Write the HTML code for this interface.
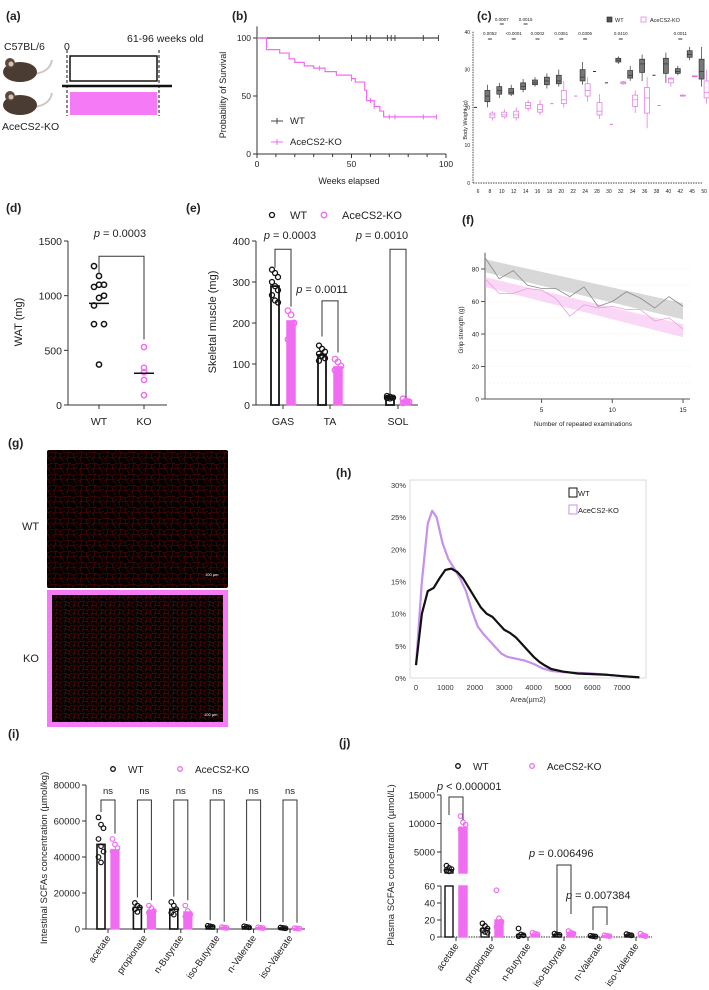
<!DOCTYPE html>
<html><head><meta charset="utf-8">
<style>
html,body{margin:0;padding:0;background:#fff;}
svg{display:block;font-family:"Liberation Sans",Arial,sans-serif;}
</style></head>
<body>
<svg id="fig" xmlns="http://www.w3.org/2000/svg" width="709" height="990" viewBox="0 0 709 990">
<defs>
<pattern id="net" width="13" height="11" patternUnits="userSpaceOnUse">
<path d="M0 2 L4 1 L8 3 L13 1 M4 1 L3 6 L0 8 M3 6 L9 7 L8 3 M9 7 L12 11 M9 7 L13 5 M2 11 L3 6" stroke="#a01010" stroke-width="0.6" fill="none"/>
</pattern>
<pattern id="net2" width="9" height="8" patternUnits="userSpaceOnUse">
<path d="M0 2 L3 1 L6 3 L9 1 M3 1 L2.5 5 L0 6 M2.5 5 L6.5 6 L6 3 M6.5 6 L8.5 8 M1.5 8 L2.5 5" stroke="#a81010" stroke-width="0.55" fill="none"/>
</pattern>
</defs>
<g font-size="12" font-weight="bold" fill="#222">
<text x="6" y="20">(a)</text>
<text x="232" y="20">(b)</text>
<text x="477" y="20">(c)</text>
<text x="6" y="212">(d)</text>
<text x="186" y="212">(e)</text>
<text x="462" y="224">(f)</text>
<text x="8" y="447">(g)</text>
<text x="336" y="477">(h)</text>
<text x="8" y="738">(i)</text>
<text x="339" y="747">(j)</text>
</g>
<g>
<text x="4" y="50" font-size="10.5" fill="#222">C57BL/6</text>
<text x="64" y="50" font-size="10.5" fill="#222">0</text>
<text x="127" y="42" font-size="10.5" fill="#222">61-96  weeks old</text>
<rect x="70" y="56" width="87" height="25" fill="#fff" stroke="#111" stroke-width="1.5"/>
<line x1="62" y1="86" x2="172" y2="86" stroke="#111" stroke-width="2.5"/>
<rect x="70" y="92" width="87" height="23" fill="#f57af5"/>
<line x1="67" y1="50" x2="67" y2="116" stroke="#111" stroke-dasharray="3,2"/>
<line x1="159" y1="50" x2="159" y2="116" stroke="#111" stroke-dasharray="3,2"/>
<g>
<path d="M34 74 Q50 72 52 60" stroke="#cfc7c0" stroke-width="2" fill="none"/>
<ellipse cx="20" cy="72" rx="17" ry="10" fill="#4a3b33"/><circle cx="10" cy="63" r="5" fill="#5a4a40"/><circle cx="11" cy="64" r="2.5" fill="#d8c0b0"/>
</g>
<g>
<path d="M34 107 Q50 105 52 93" stroke="#cfc7c0" stroke-width="2" fill="none"/>
<ellipse cx="20" cy="105" rx="17" ry="10" fill="#4a3b33"/><circle cx="10" cy="96" r="5" fill="#5a4a40"/><circle cx="11" cy="97" r="2.5" fill="#d8c0b0"/>
</g>
<text x="2" y="130" font-size="10.5" fill="#222">AceCS2-KO</text>
</g>
<g>
<text x="22" y="530" font-size="11" fill="#222">WT</text>
<text x="23" y="662" font-size="11" fill="#222">KO</text>
<rect x="47" y="450" width="181" height="138" rx="2" fill="#050000"/>
<rect x="47" y="450" width="181" height="138" fill="url(#net)" opacity="0.55"/>
<text x="205" y="576" font-size="4" fill="#fff">100 µm</text>
<rect x="47" y="590" width="181" height="137" fill="#f57af5"/>
<rect x="52" y="595" width="171" height="127" fill="#050000"/>
<rect x="52" y="595" width="171" height="127" fill="url(#net2)" opacity="0.6"/>
<text x="204" y="716" font-size="4" fill="#fff">100 µm</text>
</g>
</svg>
<script>
const survWeeks=[0,5,12,17,20,25,30,36,42,50,52,57,58,62,65,67,95];
const survKO=[100,90,87,82,79,76,74,71,68,65,62,55,46,41,37,32,32];
const wtCensor=[33,50,58,60,69,71,73,88,96];
const koCensor=[33,50,60,62,70,73,88,95];
const bwCats=["6","8","10","12","14","16","18","20","22","24","28","30","32","34","36","38","40","42","45","50"];
const wtMed=[20,23,24.5,24,25.5,26.5,27,27,null,28,29.5,26.5,32.5,28.5,31.5,28.5,31.5,29.5,34,29.5];
const wtLo=[20,20,22.5,23,24,25.5,25,25.5,null,26,29.5,26.5,31.5,27,27,28.5,26.5,28.5,32.5,25.5];
const wtHi=[20,26,26.5,26,27.5,28,29,30,null,32,29.5,26.5,33.5,31,34,28.5,34.5,31,36,36];
const koMed=[null,18,18,18,20.5,19.5,21,22,23,24.5,19,15.5,26.5,22,22.5,20.5,27.5,23,28.2,24];
const koLo=[null,16.5,17,16.5,19,18,21,20,23,21.5,17,15.5,26,18.5,14.5,20.5,25.5,23,28,21];
const koHi=[null,19,19.5,20,22,22,21,27,23,28,23.5,15.5,27,24.5,28,20.5,28,23.5,28.5,30];
const bwPRow1=[["0.0007",2],["0.0015",4]];
const bwPRow2=[["0.0052",1],["<0.0001",3],["0.0002",5],["0.0351",7],["0.0306",9],["0.0410",12],["0.0011",17]];
const watWT=[1270,1180,1100,1080,1100,1000,910,980,740,740,370];
const watKO=[530,340,300,230,90];
const watMedWT=930, watMedKO=290;
const muscles=["GAS","TA","SOL"];
const muscWT=[290,122,20];
const muscKO=[205,93,12];
const muscPtsWT=[[330,322,312,300,290,280,268,255,250],[145,137,130,125,120,114,108],[22,20,18,17,16]];
const muscPtsKO=[[230,220,200,160],[112,105,95,85,80],[15,10,8,5]];
const muscP=["p = 0.0003","p = 0.0011","p = 0.0010"];
const gripX=[1,2,3,4,5,6,7,8,9,10,11,12,13,14,15];
const gripWT=[87,74,79,70,68,68,63,69,57,60,66,62,56,63,57];
const gripKO=[74,65,65,68,67,62,51,58,56,57,55,55,48,50,43];
const gripWTFit=[82,54]; const gripWTBand=[4,5];
const gripKOFit=[72,42]; const gripKOBand=[3,4];
const areaWTx=[0,200,400,600,800,1000,1200,1400,1600,1800,2000,2200,2400,2600,2800,3000,3200,3400,3600,3800,4000,4200,4400,4600,5000,5500,6000,6500,7000,7600];
const areaWTy=[2,10,13.5,14,15.5,16.8,17,16.5,15.5,14,12.5,11,10,9.5,8.5,7.5,7,6.3,5.3,4.3,3.3,2.5,1.9,1.4,1,0.7,0.6,0.5,0.3,0.1];
const areaKOx=[0,200,400,550,700,900,1100,1300,1500,1700,1900,2100,2300,2500,2700,2900,3100,3400,3700,4000,4300,4600,5000,5500,6000,6500,7000,7600];
const areaKOy=[2,15,24,26,25,21,18.5,17,15.5,13.5,10.5,8,6.8,5.8,4.8,3.8,3.3,3,2.7,2.2,1.5,1.1,0.9,0.8,0.7,0.5,0.3,0.1];
const scfaCats=["acetate","propionate","n-Butyrate","iso-Butyrate","n-Valerate","iso-Valerate"];
const intWT=[47000,12000,11000,1500,1200,600];
const intKO=[44000,10500,9500,900,800,400];
const intPtsWT=[[62000,58000,56000,50000,46000,43000,40000,37000],[14500,13000,12000,11000,9500],[15000,13000,11000,9000,8000],[1800,1500,1200],[1500,1200,900],[800,600,400]];
const intPtsKO=[[50000,47000,45000,43000,41000],[13000,11500,10000,9000],[13000,10000,8000,7000],[1000,800,600],[900,700,500],[500,300,200]];
const plaWT=[1900,10,3,3,1,2.5];
const plaKO=[9300,20,3.5,5,1.5,2];
const plaPtsWT=[[2600,2200,2000,1800,1600],[16,13,10,8,6,5],[10,3,2,1],[4,3,2.5],[1.5,1,0.5],[3.5,2.5,2]];
const plaPtsKO=[[11300,10200,9800,9000,8500],[55,22,18,12,8],[5,4,3],[7,5,4],[2,1.5,1],[4,2,1]];

const NS='http://www.w3.org/2000/svg';
const svg=document.getElementById('fig');
function mk(tag,a,p){const e=document.createElementNS(NS,tag);for(const k in a)e.setAttribute(k,a[k]);(p||svg).appendChild(e);return e;}
function txt(x,y,s,size,anchor,p,extra){const e=mk('text',Object.assign({x:x,y:y,'font-size':size,'text-anchor':anchor||'start',fill:'#222'},extra||{}),p);e.textContent=s;return e;}
function grp(name){const g=mk('g',{});return g;}
const PINK='#f06cf0';

(function(){
const g=grp('survival-chart');
const xb=w=>257+w*1.89, yb=p=>154-p*1.16;
let e=mk('line',{x1:257,y1:yb(110),x2:257,y2:154,stroke:'#333'},g);

e=mk('line',{x1:257,y1:154,x2:xb(100),y2:154,stroke:'#333'},g);

[0,50,100].forEach(v=>{mk('line',{x1:253,x2:257,y1:yb(v),y2:yb(v),stroke:'#333'},g);const t=txt(251,yb(v)+3,String(v),8.5,'end',g);});
for(let w=0;w<=100;w+=10){mk('line',{x1:xb(w),x2:xb(w),y1:154,y2:w%50?157:158,stroke:'#333'},g);}
[0,50,100].forEach(v=>{const t=txt(xb(v),167,String(v),8.5,'middle',g);});
e=txt(349,184,'Weeks elapsed',9,'middle',g);
e=txt(0,0,'Probability of Survival',9,'middle',g,{transform:'translate(226,95) rotate(-90)'});
e=mk('line',{x1:xb(0),x2:xb(96),y1:yb(100),y2:yb(100),stroke:'#444','stroke-width':1.2},g);

wtCensor.forEach(w=>{const c=mk('line',{x1:xb(w),x2:xb(w),y1:yb(100)-3,y2:yb(100)+3,stroke:'#444'},g);});
let d='M'+xb(survWeeks[0])+' '+yb(survKO[0]);
for(let i=1;i<survWeeks.length;i++){d+=' H'+xb(survWeeks[i])+' V'+yb(survKO[i]);}
e=mk('path',{d:d,fill:'none',stroke:PINK,'stroke-width':1.2},g);

koCensor.forEach(w=>{let v=survKO[0];for(let i=0;i<survWeeks.length;i++)if(survWeeks[i]<=w)v=survKO[i];const c=mk('line',{x1:xb(w),x2:xb(w),y1:yb(v)-2.5,y2:yb(v)+2.5,stroke:PINK},g);});
e=mk('line',{x1:271,x2:283,y1:121,y2:121,stroke:'#444'},g);
mk('line',{x1:277,x2:277,y1:118,y2:124,stroke:'#444'},g);
e=txt(290,124,'WT',9.5,'start',g);
e=mk('line',{x1:271,x2:283,y1:142,y2:142,stroke:PINK},g);
mk('line',{x1:277,x2:277,y1:139,y2:145,stroke:PINK},g);
e=txt(290,145,'AceCS2-KO',9.5,'start',g);
})();

(function(){
const g=grp('body-weight-chart');
const xc=i=>478+i*11.9, yc=v=>183-v*3.78;
let e=mk('line',{x1:473,y1:yc(40),x2:473,y2:183,stroke:'#444','stroke-dasharray':'1.5,1'},g);
e=mk('line',{x1:473,y1:183,x2:703,y2:183,stroke:'#444','stroke-dasharray':'1.5,1'},g);
[0,10,20,30,40].forEach(v=>{const t=txt(470,yc(v)+2,String(v),5,'end',g);});
bwCats.forEach((c,i)=>{const t=txt(xc(i),193,c,5,'middle',g);});
e=txt(0,0,'Body Weight (g)',5.5,'middle',g,{transform:'translate(467,120) rotate(-90)'});
function box(i,med,lo,hi,dx,col,fill,name){
 if(med==null)return;
 const x=xc(i)+dx;
 if(lo===hi){const b=mk('line',{x1:x-1.5,x2:x+1.5,y1:yc(med),y2:yc(med),stroke:col},g);return;}
 const q1=med-(med-lo)*0.5,q3=med+(hi-med)*0.5;
 mk('line',{x1:x,x2:x,y1:yc(hi),y2:yc(lo),stroke:col,'stroke-width':0.7},g);
 const b=mk('rect',{x:x-2.5,y:yc(q3),width:5,height:Math.max(1,yc(q1)-yc(q3)),fill:fill,stroke:col,'stroke-width':0.7},g);
 
 mk('line',{x1:x-2.5,x2:x+2.5,y1:yc(med),y2:yc(med),stroke:col,'stroke-width':0.7},g);
}
bwCats.forEach((c,i)=>{box(i,wtMed[i],wtLo[i],wtHi[i],-2.5,'#333','#777','wt-weight-box');box(i,koMed[i],koLo[i],koHi[i],2.5,'#e070e0','#fff','ko-weight-box');});
bwPRow1.forEach(p=>{const t=txt(xc(p[1]),21,p[0],4.5,'middle',g);mk('line',{x1:xc(p[1])-2,x2:xc(p[1])+2,y1:24,y2:24,stroke:'#333'},g);});
bwPRow2.forEach(p=>{const t=txt(xc(p[1]),35,p[0],4.5,'middle',g);mk('line',{x1:xc(p[1])-2,x2:xc(p[1])+2,y1:39,y2:39,stroke:'#333'},g);});
e=mk('rect',{x:607,y:17,width:5,height:5,fill:'#555',stroke:'#222','stroke-width':0.6},g);
e=txt(615,22,'WT',5.5,'start',g);
e=mk('rect',{x:641,y:17,width:5,height:5,fill:'#fff',stroke:'#e070e0','stroke-width':0.7},g);
e=txt(650,22,'AceCS2-KO',5.5,'start',g);
})();

(function(){
const g=grp('wat-chart');
const yd=v=>405-v*(164/1500), xWT=99, xKO=144;
let e=mk('line',{x1:68,y1:yd(1500),x2:68,y2:405,stroke:'#333'},g);
e=mk('line',{x1:68,y1:405,x2:167,y2:405,stroke:'#333'},g);
[0,500,1000,1500].forEach(v=>{mk('line',{x1:64,x2:68,y1:yd(v),y2:yd(v),stroke:'#333'},g);const t=txt(62,yd(v)+4,String(v),10.5,'end',g);});
[[xWT,'WT'],[xKO,'KO']].forEach(a=>{mk('line',{x1:a[0],x2:a[0],y1:405,y2:409,stroke:'#333'},g);const t=txt(a[0],425,a[1],10.5,'middle',g);});
e=txt(0,0,'WAT (mg)',11,'middle',g,{transform:'translate(22,322) rotate(-90)'});
watWT.forEach((v,i)=>{const c=mk('circle',{cx:xWT+((i%3)-1)*5,cy:yd(v),r:2.6,fill:'none',stroke:'#111','stroke-width':1.5},g);});
watKO.forEach((v,i)=>{const c=mk('circle',{cx:xKO,cy:yd(v),r:2.6,fill:'none',stroke:PINK,'stroke-width':1.5},g);});
e=mk('line',{x1:xWT-10,x2:xWT+10,y1:yd(watMedWT),y2:yd(watMedWT),stroke:'#111','stroke-width':1.5},g);
e=mk('line',{x1:xKO-10,x2:xKO+10,y1:yd(watMedKO),y2:yd(watMedKO),stroke:'#111','stroke-width':1.5},g);
e=mk('path',{d:`M${xWT} ${yd(1200)} V${yd(1360)} H${xKO} V${yd(600)}`,fill:'none',stroke:'#333'},g);
e=txt(120,237,'',11,'middle',g);e.innerHTML='<tspan font-style="italic">p</tspan> = 0.0003';
})();

(function(){
const g=grp('skeletal-muscle-chart');
const ye=v=>405-v*(164/400), xg=i=>[283,330,398][i];
let e=mk('line',{x1:256,y1:ye(400),x2:256,y2:405,stroke:'#333'},g);
e=mk('line',{x1:256,y1:405,x2:418,y2:405,stroke:'#333'},g);
[0,100,200,300,400].forEach(v=>{mk('line',{x1:252,x2:256,y1:ye(v),y2:ye(v),stroke:'#333'},g);const t=txt(250,ye(v)+4,String(v),10.5,'end',g);});
muscles.forEach((m,i)=>{mk('line',{x1:xg(i),x2:xg(i),y1:405,y2:409,stroke:'#333'},g);const t=txt(xg(i),425,m,10.5,'middle',g);});
e=txt(0,0,'Skeletal muscle (mg)',11,'middle',g,{transform:'translate(216,322) rotate(-90)'});
muscles.forEach((m,i)=>{
 const xw=xg(i)-8, xk=xg(i)+8;
 let b=mk('rect',{x:xw-4,y:ye(muscWT[i]),width:8,height:405-ye(muscWT[i]),fill:'#fff',stroke:'#111','stroke-width':1.8},g);
 b=mk('rect',{x:xk-4,y:ye(muscKO[i]),width:8,height:405-ye(muscKO[i]),fill:PINK,stroke:PINK,'stroke-width':1.5},g);
 muscPtsWT[i].forEach((v,j)=>{const c=mk('circle',{cx:xw+((j%3)-1)*3,cy:ye(v),r:2.5,fill:'none',stroke:'#111','stroke-width':1.3},g);});
 muscPtsKO[i].forEach((v,j)=>{const c=mk('circle',{cx:xk+((j%3)-1)*3,cy:ye(v),r:2.8,fill:'none',stroke:PINK,'stroke-width':1.3},g);});
 const top=i===1?ye(254):ye(380);
 const lw=i===2?ye(25):ye(muscWT[i]+45), lk=i===2?ye(18):ye(muscKO[i]+35);
 b=mk('path',{d:`M${xw} ${lw} V${top} H${xk} V${lk}`,fill:'none',stroke:'#333'},g);
 const t=txt(i===0?290:(i===1?322:382),i===1?293:239,'',11,'middle',g);t.innerHTML='<tspan font-style="italic">p</tspan>'+muscP[i].slice(1);
});
let c=mk('circle',{cx:272,cy:215,r:2.5,fill:'none',stroke:'#111','stroke-width':1.3},g);
e=txt(290,219,'WT',11,'start',g);
c=mk('circle',{cx:324,cy:215,r:2.8,fill:'none',stroke:PINK,'stroke-width':1.3},g);
e=txt(342,219,'AceCS2-KO',11,'start',g);
})();

(function(){
const g=grp('grip-strength-chart');
const xf=n=>485+(n-1)*(198/14), yf=v=>399-v*(130/80);
for(let v=0;v<=80;v+=10){mk('line',{x1:485,x2:690,y1:yf(v),y2:yf(v),stroke:'#eee','stroke-dasharray':'1,3'},g);}
let e=mk('line',{x1:485,y1:yf(90),x2:485,y2:399,stroke:'#555'},g);
e=mk('line',{x1:485,y1:399,x2:690,y2:399,stroke:'#555'},g);
[0,20,40,60,80].forEach(v=>{mk('line',{x1:481,x2:485,y1:yf(v),y2:yf(v),stroke:'#555'},g);const t=txt(479,yf(v)+2.5,String(v),6.5,'end',g);});
[5,10,15].forEach(v=>{mk('line',{x1:xf(v),x2:xf(v),y1:399,y2:403,stroke:'#555'},g);const t=txt(xf(v),412,String(v),6.5,'middle',g);});
e=txt(583,426,'Number of repeated examinations',6.5,'middle',g);
e=txt(0,0,'Grip strength (g)',6.5,'middle',g,{transform:'translate(463,330) rotate(-90)'});
function band(fit,bw,col,name){const x1=gripX[0],x2=gripX[gripX.length-1];
 const p=mk('polygon',{points:`${xf(x1)},${yf(fit[0]+bw[0])} ${xf(x2)},${yf(fit[1]+bw[1])} ${xf(x2)},${yf(fit[1]-bw[1])} ${xf(x1)},${yf(fit[0]-bw[0])}`,fill:col,opacity:0.45},g);}
band(gripWTFit,gripWTBand,'#a9a9a9','wt-confidence-band');
band(gripKOFit,gripKOBand,'#f3a6ea','ko-confidence-band');
e=mk('polyline',{points:gripX.map((n,i)=>xf(n)+','+yf(gripWT[i])).join(' '),fill:'none',stroke:'#8a8a8a','stroke-width':0.8},g);
e=mk('polyline',{points:gripX.map((n,i)=>xf(n)+','+yf(gripKO[i])).join(' '),fill:'none',stroke:'#e69ee0','stroke-width':0.8},g);
})();

(function(){
const g=grp('fiber-area-chart');
const xh=a=>416+a*0.0294, yh=p=>678-p*(193/30);
let e=mk('rect',{x:410,y:480,width:236,height:198,fill:'none',stroke:'#ccc','stroke-width':0.7},g);
[0,5,10,15,20,25,30].forEach(v=>{const t=txt(406,yh(v)+3,v+'%',7.5,'end',g,{fill:'#333'});});
[0,1000,2000,3000,4000,5000,6000,7000].forEach(v=>{const t=txt(xh(v),690,String(v),7.5,'middle',g,{fill:'#333'});});
e=txt(528,702,'Area(µm2)',7.5,'middle',g,{fill:'#333'});
e=mk('polyline',{points:areaKOx.map((a,i)=>xh(a)+','+yh(areaKOy[i])).join(' '),fill:'none',stroke:'#c690ec','stroke-width':2.2,'stroke-linejoin':'round'},g);
e=mk('polyline',{points:areaWTx.map((a,i)=>xh(a)+','+yh(areaWTy[i])).join(' '),fill:'none',stroke:'#111','stroke-width':2.2,'stroke-linejoin':'round'},g);
e=mk('rect',{x:569,y:488,width:8,height:9,fill:'none',stroke:'#111'},g);
e=txt(578,496,'WT',7.5,'start',g);
e=mk('rect',{x:569,y:505,width:8,height:9,fill:'none',stroke:'#c690ec'},g);
e=txt(578,513,'AceCS2-KO',7.5,'start',g);
})();

(function(){
const g=grp('intestinal-scfa-chart');
const yi=v=>929-v*(144/80000), xg=i=>108+i*36.4;
let e=mk('line',{x1:86,y1:yi(80000),x2:86,y2:929,stroke:'#333'},g);
e=mk('line',{x1:86,y1:929,x2:305,y2:929,stroke:'#333'},g);
[0,20000,40000,60000,80000].forEach(v=>{mk('line',{x1:82,x2:86,y1:yi(v),y2:yi(v),stroke:'#333'},g);const t=txt(80,yi(v)+3.5,String(v),9.5,'end',g);});
scfaCats.forEach((c,i)=>{mk('line',{x1:xg(i),x2:xg(i),y1:929,y2:933,stroke:'#333'},g);const t=txt(0,0,c,9.5,'end',g,{transform:`translate(${xg(i)+3},938) rotate(-55)`});});
e=txt(0,0,'Intestinal SCFAs concentration (µmol/kg)',9.5,'middle',g,{transform:'translate(47,858) rotate(-90)'});
scfaCats.forEach((c,i)=>{
 const xw=xg(i)-7, xk=xg(i)+7;
 let b=mk('rect',{x:xw-4,y:yi(intWT[i]),width:8,height:929-yi(intWT[i]),fill:'#fff',stroke:'#111','stroke-width':1.6},g);
 b=mk('rect',{x:xk-4,y:yi(intKO[i]),width:8,height:929-yi(intKO[i]),fill:PINK,stroke:PINK,'stroke-width':1.2},g);
 intPtsWT[i].forEach((v,j)=>{const p=mk('circle',{cx:xw+((j%3)-1)*2.5,cy:yi(v),r:2.3,fill:'none',stroke:'#111','stroke-width':1.2},g);});
 intPtsKO[i].forEach((v,j)=>{const p=mk('circle',{cx:xk+((j%3)-1)*2.5,cy:yi(v),r:2.3,fill:'none',stroke:PINK,'stroke-width':1.2},g);});
 const lw=yi(Math.max(...intPtsWT[i])+3000), lk=yi(Math.max(...intPtsKO[i])+3000);
 b=mk('path',{d:`M${xw} ${Math.min(lw,929)} V800 H${xk} V${Math.min(lk,929)}`,fill:'none',stroke:'#333'},g);
 const t=txt(xg(i),794,'ns',9.5,'middle',g);
});
let c=mk('circle',{cx:113,cy:769,r:2.3,fill:'none',stroke:'#111','stroke-width':1.3},g);
e=txt(128,773,'WT',10,'start',g);
c=mk('circle',{cx:180,cy:769,r:2.3,fill:'none',stroke:PINK,'stroke-width':1.3},g);
e=txt(195,773,'AceCS2-KO',10,'start',g);
})();

(function(){
const g=grp('plasma-scfa-chart');
const yj=v=>v<=60?937-v*(51/60):852-(v-5000)*(28.5/5000);
const BRK_LO=886, BRK_HI=873;
const xg=i=>456+i*36;
let e=mk('line',{x1:441,y1:795,x2:441,y2:BRK_HI,stroke:'#333'},g);
e=mk('line',{x1:441,y1:BRK_LO,x2:441,y2:937,stroke:'#333'},g);
e=mk('line',{x1:441,y1:937,x2:652,y2:937,stroke:'#333','stroke-dasharray':'1.5,1'},g);
[5000,10000,15000].forEach(v=>{mk('line',{x1:437,x2:441,y1:yj(v),y2:yj(v),stroke:'#333'},g);const t=txt(435,yj(v)+3.5,String(v),9.5,'end',g);});
[0,20,40,60].forEach(v=>{mk('line',{x1:437,x2:441,y1:yj(v),y2:yj(v),stroke:'#333'},g);const t=txt(435,yj(v)+3.5,String(v),9.5,'end',g);});
scfaCats.forEach((c,i)=>{mk('line',{x1:xg(i),x2:xg(i),y1:937,y2:941,stroke:'#333'},g);const t=txt(0,0,c,9.5,'end',g,{transform:`translate(${xg(i)+3},946) rotate(-55)`});});
e=txt(0,0,'Plasma SCFAs concentration (µmol/L)',9.5,'middle',g,{transform:'translate(394,865) rotate(-90)'});
function bar(x,v,fill,stroke,name){
 if(v<=60){const b=mk('rect',{x:x-4,y:yj(v),width:8,height:937-yj(v),fill:fill,stroke:stroke,'stroke-width':1.4},g);return;}
 const b=mk('rect',{x:x-4,y:BRK_LO,width:8,height:937-BRK_LO,fill:fill,stroke:stroke,'stroke-width':1.4},g);
 const b2=mk('rect',{x:x-4,y:yj(v),width:8,height:BRK_HI-yj(v),fill:fill,stroke:stroke,'stroke-width':1.4},g);
}
function pt(x,v,col,name){if(v>60&&yj(v)>BRK_HI)return;const p=mk('circle',{cx:x,cy:yj(v),r:2.3,fill:'none',stroke:col,'stroke-width':1.2},g);}
scfaCats.forEach((c,i)=>{
 const xw=xg(i)-7,xk=xg(i)+7;
 bar(xw,plaWT[i],'#fff','#111','wt-plasma-bar');
 bar(xk,plaKO[i],PINK,PINK,'ko-plasma-bar');
 plaPtsWT[i].forEach((v,j)=>pt(xw+((j%3)-1)*2.5,v,'#111','wt-plasma-point'));
 plaPtsKO[i].forEach((v,j)=>pt(xk+((j%3)-1)*2.5,v,PINK,'ko-plasma-point'));
});
e=mk('path',{d:`M${xg(0)-7} 815 V797 H${xg(0)+7} V820`,fill:'none',stroke:'#333'},g);
e=txt(437,790,'',11,'start',g);e.innerHTML='<tspan font-style="italic">p</tspan> &lt; 0.000001';
e=mk('path',{d:`M${xg(3)-7} 932 V865 H${xg(3)+7} V914`,fill:'none',stroke:'#333'},g);
e=txt(529,857,'',11,'start',g);e.innerHTML='<tspan font-style="italic">p</tspan> = 0.006496';
e=mk('path',{d:`M${xg(4)-7} 930 V907 H${xg(4)+7} V925`,fill:'none',stroke:'#333'},g);
e=txt(566,899,'',11,'start',g);e.innerHTML='<tspan font-style="italic">p</tspan> = 0.007384';
let c=mk('circle',{cx:458,cy:766,r:2.3,fill:'none',stroke:'#111','stroke-width':1.3},g);
e=txt(473,770,'WT',10,'start',g);
c=mk('circle',{cx:532,cy:766,r:2.3,fill:'none',stroke:PINK,'stroke-width':1.3},g);
e=txt(547,770,'AceCS2-KO',10,'start',g);
})();
</script>
</body></html>
